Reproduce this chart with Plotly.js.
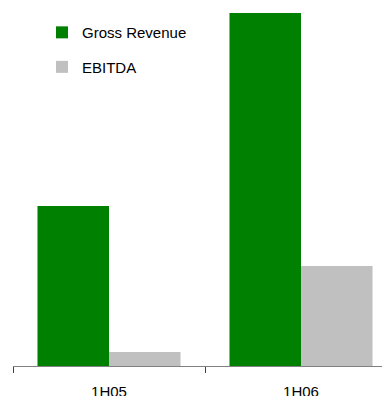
<!DOCTYPE html>
<html>
<head>
<meta charset="utf-8">
<script src="https://cdn.plot.ly/plotly-3.0.1.min.js"></script>
<style>html,body{margin:0;padding:0;background:#fff;}#chart{width:382px;height:396px;}</style>
</head>
<body>
<div id="chart"></div>
<script>
var categories = ["1H05", "1H06"];
var grossRevenue = [160, 353];
var ebitda = [14, 100];
var seriesNames = ["Gross Revenue", "EBITDA"];

var traces = [
  {type: "bar", x: categories, y: grossRevenue, name: seriesNames[0], legendgroup: "a",
   marker: {color: "#008000", line: {width: 0}}, hoverinfo: "none"},
  {type: "bar", x: categories, y: ebitda, name: seriesNames[1], legendgroup: "b",
   marker: {color: "#c0c0c0", line: {width: 0}}, hoverinfo: "none"}
];

var layout = {
  width: 382, height: 396,
  margin: {l: 13, r: 0, t: 0, b: 30, pad: 0},
  paper_bgcolor: "#fff", plot_bgcolor: "#fff",
  barmode: "group", bargap: 0.255, bargroupgap: 0,
  font: {family: "Liberation Sans, Arial, sans-serif", color: "#000"},
  showlegend: true,
  legend: {x: 0.0786, y: 0.956, xanchor: "left", yanchor: "top", bgcolor: "rgba(0,0,0,0)",
    font: {size: 15, family: "Liberation Sans, Arial, sans-serif", color: "#000"},
    tracegroupgap: 12, itemclick: false},
  xaxis: {type: "category", range: [-0.5, 1.4219], showline: true, linecolor: "#808080", linewidth: 1,
    ticks: "outside", tickson: "boundaries", ticklen: 6, tickcolor: "#404040", tickwidth: 1,
    ticklabelstandoff: 12,
    showgrid: false, zeroline: false, fixedrange: true,
    tickfont: {size: 15, family: "Liberation Sans, Arial, sans-serif", color: "#000"}},
  yaxis: {range: [0, 366], visible: false, showgrid: false, zeroline: false, fixedrange: true}
};

Plotly.newPlot("chart", traces, layout, {staticPlot: true, displayModeBar: false});
</script>
</body>
</html>
